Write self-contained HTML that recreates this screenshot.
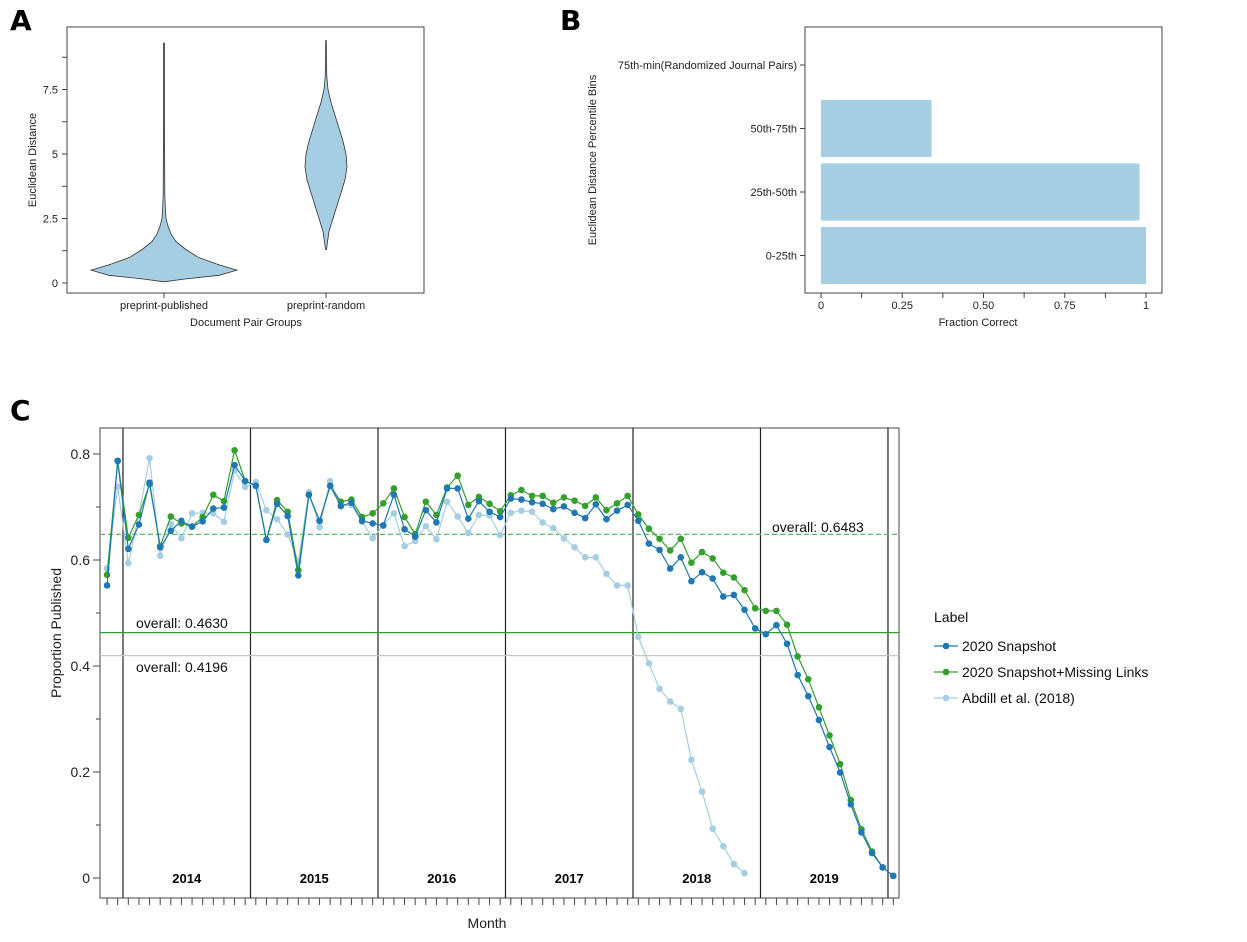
<!DOCTYPE html>
<html><head><meta charset="utf-8"><style>
body{margin:0;background:#fff;}
svg{display:block;font-family:"Liberation Sans",sans-serif;}
</style></head><body>
<svg id="fig" width="1247" height="942" viewBox="0 0 1247 942">
<text x="10" y="30" font-size="28" font-weight="bold" font-family="DejaVu Sans,sans-serif">A</text>
<text x="560" y="30" font-size="28" font-weight="bold" font-family="DejaVu Sans,sans-serif">B</text>
<text x="10" y="420" font-size="28" font-weight="bold" font-family="DejaVu Sans,sans-serif">C</text>
<g id="pa"></g>
<g id="pb"></g>
<g id="pc"></g>
</svg>
<script>
// Panel A data
const violinGroups=["preprint-published","preprint-random"];
const violin1Vals=[0.05,0.15,0.3,0.5,0.7,1.0,1.3,1.6,1.9,2.2,2.5,3.0,3.5,5,7,9.3];
const violin1Hw=[1,20,55,73,55,34,22,12,7,4,2,1.2,0.8,0.6,0.5,0.4];
const violin2Vals=[1.3,1.6,2.0,2.5,3.0,3.5,4.0,4.5,5.0,5.5,6.0,6.5,7.0,7.5,8.0,8.5,9.4];
const violin2Hw=[0.5,1.5,3,7,11,15,19,21,20,17,13,9,5,2,0.8,0.5,0.3];
const aTicks=[0,2.5,5,7.5];
const aTickLabels=["0","2.5","5","7.5"];
// Panel B data
const bCats=["0-25th","25th-50th","50th-75th","75th-min(Randomized Journal Pairs)"];
const bVals=[1.0,0.98,0.34,0];
const bTicks=[0,0.25,0.5,0.75,1];
const bTickLabels=["0","0.25","0.50","0.75","1"];
// Panel C data (month index: 0 = Jan 2014)
const monthStart=-2;
const snapshot=[0.552,0.787,0.621,0.667,0.746,0.624,0.655,0.674,0.663,0.673,0.697,0.699,0.779,0.749,0.740,0.638,0.706,0.683,0.571,0.723,0.674,0.740,0.702,0.708,0.674,0.669,0.665,0.723,0.658,0.644,0.694,0.671,0.735,0.735,0.678,0.711,0.691,0.681,0.716,0.714,0.709,0.706,0.696,0.701,0.689,0.679,0.705,0.677,0.693,0.704,0.674,0.631,0.619,0.584,0.605,0.560,0.577,0.565,0.531,0.534,0.506,0.471,0.460,0.477,0.442,0.383,0.343,0.298,0.247,0.199,0.139,0.086,0.047,0.020,0.004];
const missing=[0.572,0.787,0.642,0.685,0.743,0.626,0.682,0.669,0.663,0.681,0.723,0.711,0.807,0.749,0.740,0.638,0.713,0.691,0.581,0.723,0.674,0.740,0.710,0.714,0.681,0.688,0.707,0.735,0.681,0.649,0.710,0.685,0.737,0.759,0.704,0.719,0.706,0.692,0.722,0.732,0.721,0.721,0.708,0.718,0.712,0.702,0.718,0.694,0.707,0.721,0.686,0.659,0.640,0.618,0.640,0.595,0.615,0.603,0.576,0.567,0.543,0.509,0.504,0.504,0.478,0.418,0.375,0.322,0.269,0.215,0.147,0.092,0.050,0.020,0.004];
const abdill=[0.584,0.738,0.594,0.685,0.792,0.608,0.668,0.641,0.688,0.689,0.688,0.672,0.769,0.738,0.747,0.694,0.677,0.648,0.597,0.728,0.662,0.749,0.701,0.704,0.672,0.641,0.666,0.688,0.626,0.636,0.664,0.639,0.710,0.682,0.651,0.685,0.684,0.647,0.689,0.693,0.691,0.671,0.660,0.641,0.624,0.605,0.605,0.574,0.552,0.552,0.455,0.405,0.357,0.333,0.319,0.223,0.163,0.093,0.060,0.026,0.009];
const overallVals=[0.6483,0.4630,0.4196];
const overallLabels=["overall: 0.6483","overall: 0.4630","overall: 0.4196"];
const years=["2014","2015","2016","2017","2018","2019"];
const cTicks=[0,0.2,0.4,0.6,0.8];
const cTickLabels=["0","0.2","0.4","0.6","0.8"];
const seriesNames=["2020 Snapshot","2020 Snapshot+Missing Links","Abdill et al. (2018)"];

const NS="http://www.w3.org/2000/svg";
function mk(parent,tag,attrs,text){const e=document.createElementNS(NS,tag);for(const k in attrs)e.setAttribute(k,attrs[k]);if(text!==undefined)e.textContent=text;parent.appendChild(e);return e;}

// ---------- Panel A ----------
const pa=document.getElementById('pa');
const ay=v=>283-v*25.8;
const ax=i=>164+i*162;
let fr=mk(pa,'rect',{x:67,y:27,width:357,height:266,fill:'none',stroke:'#444','stroke-width':1});

[[violin1Vals,violin1Hw],[violin2Vals,violin2Hw]].forEach((d,gi)=>{
  const [vals,hw]=d;let pts=[];
  for(let j=0;j<vals.length;j++)pts.push((ax(gi)+hw[j]).toFixed(1)+','+ay(vals[j]).toFixed(1));
  for(let j=vals.length-1;j>=0;j--)pts.push((ax(gi)-hw[j]).toFixed(1)+','+ay(vals[j]).toFixed(1));
  const p=mk(pa,'polygon',{points:pts.join(' '),fill:'#a6cee3',stroke:'#333','stroke-width':0.8});
  
  mk(pa,'line',{x1:ax(gi),x2:ax(gi),y1:293,y2:298,stroke:'#444'});
  const t=mk(pa,'text',{x:ax(gi),y:309,'font-size':11,'text-anchor':'middle',fill:'#222'},violinGroups[gi]);
  
});
for(let v=0;v<=9;v+=1.25){mk(pa,'line',{x1:62,x2:67,y1:ay(v),y2:ay(v),stroke:'#444'});}
aTicks.forEach((v,i)=>{const t=mk(pa,'text',{x:58,y:ay(v)+4,'font-size':11,'text-anchor':'end',fill:'#222'},aTickLabels[i]);});
let t=mk(pa,'text',{x:246,y:326,'font-size':11,'text-anchor':'middle',fill:'#222'},'Document Pair Groups');
t=mk(pa,'text',{x:0,y:0,'font-size':11,'text-anchor':'middle',fill:'#222',transform:'translate(36,160) rotate(-90)'},'Euclidean Distance');

// ---------- Panel B ----------
const pb=document.getElementById('pb');
const bx=v=>821+v*325;
const by=i=>255.5-i*63.5;
fr=mk(pb,'rect',{x:805,y:27,width:357,height:266,fill:'none',stroke:'#444','stroke-width':1});

bCats.forEach((c,i)=>{
  const r=mk(pb,'rect',{x:bx(0),y:by(i)-28.5,width:Math.max(0,bx(bVals[i])-bx(0)),height:57,fill:'#a6cee3'});
  
  mk(pb,'line',{x1:800,x2:805,y1:by(i),y2:by(i),stroke:'#444'});
  const l=mk(pb,'text',{x:797,y:by(i)+4,'font-size':11,'text-anchor':'end',fill:'#222'},c);
  
});
for(let v=0;v<=1.001;v+=0.125){mk(pb,'line',{x1:bx(v),x2:bx(v),y1:293,y2:298,stroke:'#444'});}
bTicks.forEach((v,i)=>{const l=mk(pb,'text',{x:bx(v),y:309,'font-size':11,'text-anchor':'middle',fill:'#222'},bTickLabels[i]);});
t=mk(pb,'text',{x:978,y:326,'font-size':11,'text-anchor':'middle',fill:'#222'},'Fraction Correct');
t=mk(pb,'text',{x:0,y:0,'font-size':11,'text-anchor':'middle',fill:'#222',transform:'translate(596,160) rotate(-90)'},'Euclidean Distance Percentile Bins');

// ---------- Panel C ----------
const pc=document.getElementById('pc');
const cx=i=>128.3+i*10.625;
const cy=v=>878-v*530;
fr=mk(pc,'rect',{x:100,y:428,width:799,height:470,fill:'none',stroke:'#444','stroke-width':1});

for(let y=0;y<=6;y++){
  const xb=cx(y*12-0.5);
  const ln=mk(pc,'line',{x1:xb,x2:xb,y1:428,y2:898,stroke:'#222','stroke-width':1.2});
  
  if(y<6){const yl=mk(pc,'text',{x:cx(y*12+5.5),y:883,'font-size':13,'font-weight':'bold','text-anchor':'middle',fill:'#000'},years[y]);}
}
overallVals.forEach((v,i)=>{
  const l=mk(pc,'line',{x1:100,x2:899,y1:cy(v),y2:cy(v),stroke:i==0?'#5cb85c':(i==1?'#2ca02c':'#c6c6c6'),'stroke-width':1.2,'stroke-dasharray':i==0?'5,3':''});
  
});
t=mk(pc,'text',{x:772,y:532,'font-size':14,fill:'#111'},overallLabels[0]);
t=mk(pc,'text',{x:136,y:628,'font-size':14,fill:'#111'},overallLabels[1]);
t=mk(pc,'text',{x:136,y:672,'font-size':14,fill:'#111'},overallLabels[2]);
const sColors=['#1f78b4','#33a02c','#a6cee3'];
[abdill,missing,snapshot].forEach((arr,k)=>{
  const si=[2,1,0][k];const col=sColors[si];
  const g=mk(pc,'g',{});
  
  
  mk(g,'polyline',{points:arr.map((v,j)=>cx(monthStart+j).toFixed(1)+','+cy(v).toFixed(1)).join(' '),fill:'none',stroke:col,'stroke-width':1.2});
  arr.forEach((v,j)=>{const c=mk(g,'circle',{cx:cx(monthStart+j),cy:cy(v),r:3.3,fill:col});});
});
for(let v=0;v<=0.85;v+=0.1){mk(pc,'line',{x1:(Math.round(v*10)%2==0)?93:96,x2:100,y1:cy(v),y2:cy(v),stroke:'#444'});}
cTicks.forEach((v,i)=>{const l=mk(pc,'text',{x:90,y:cy(v)+5,'font-size':14,'text-anchor':'end',fill:'#222'},cTickLabels[i]);});
for(let m=-2;m<=72;m++){mk(pc,'line',{x1:cx(m),x2:cx(m),y1:898,y2:905,stroke:'#444'});}
t=mk(pc,'text',{x:487,y:928,'font-size':14,'text-anchor':'middle',fill:'#222'},'Month');
t=mk(pc,'text',{x:0,y:0,'font-size':14,'text-anchor':'middle',fill:'#222',transform:'translate(61,633) rotate(-90)'},'Proportion Published');
// legend
const lg=mk(pc,'g',{});
t=mk(lg,'text',{x:934,y:622,'font-size':14,fill:'#111'},'Label');
seriesNames.forEach((n,i)=>{
  const y=646+i*26;
  const e=mk(lg,'g',{});
  mk(e,'line',{x1:934,x2:958,y1:y,y2:y,stroke:sColors[i],'stroke-width':1.2});
  mk(e,'circle',{cx:946,cy:y,r:3.3,fill:sColors[i]});
  mk(e,'text',{x:962,y:y+5,'font-size':14,fill:'#111'},n);
});
</script>
</body></html>
